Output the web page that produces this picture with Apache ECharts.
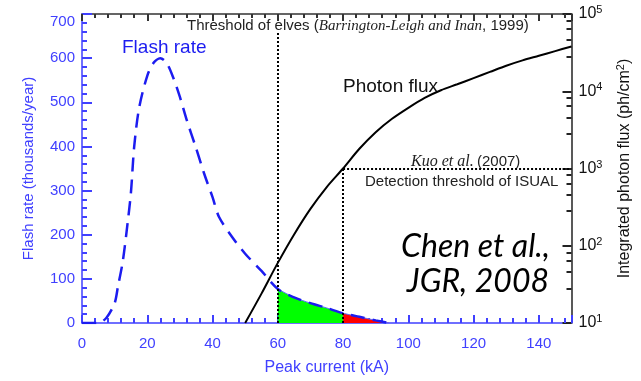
<!DOCTYPE html>
<html>
<head>
<meta charset="utf-8">
<script src="https://cdn.jsdelivr.net/npm/echarts@6/dist/echarts.min.js"></script>
<style>
html, body { margin: 0; padding: 0; background: #fff; }
#chart { width: 641px; height: 381px; }
</style>
</head>
<body>
<div id="chart"></div>
<script>
// peak current (kA) and flash rate (thousands/year)
var flashCurrent = [0, 5, 7.5, 10, 11, 12.5, 14, 15, 16, 17.5, 20, 22, 24, 26, 28, 30, 32, 35, 37.5, 40, 42, 46, 50, 55, 60, 65, 70, 75, 80, 85, 90, 94];
var flashRate = [0, 0, 12, 45, 82, 140, 228, 296, 400, 487, 560, 590, 600, 588, 555, 512, 462, 395, 337, 285, 240, 195, 157, 118, 77, 58, 45, 34, 22, 14, 6, 0];

// integrated photon flux (ph/cm2)
var photonCurrent = [50, 55, 60, 65, 70, 75, 80, 85, 90, 95, 100, 105, 110, 115, 120, 125, 130, 135, 140, 145, 150];
var photonFlux = [10, 24, 60, 140, 300, 575, 1000, 1800, 2950, 4400, 6100, 8200, 10300, 12300, 14800, 17800, 21400, 25100, 28800, 33100, 38000];

var elvesCurrent = 60;
var isualCurrent = 80;
var isualFlux = 1000;
var fluxDecades = [10, 100, 1000, 10000, 100000];

var blue = '#4040ff';
var curveBlue = '#1c1cf0';
var sans = 'Liberation Sans';

function pairs(xs, ys, from, to) {
	var out = [];
	for (var i = 0; i < xs.length; i++) {
		if (xs[i] >= from && xs[i] <= to) out.push([xs[i], ys[i]]);
	}
	return out;
}

// IDL style minor ticks on the log axis (linear steps inside each decade)
var fluxMinorTicks = [];
fluxDecades.slice(0, 4).forEach(function(d) {
	for (var k = 1; k <= 4; k++) fluxMinorTicks.push(d + 1.8 * d * k);
});

var myChart = echarts.init(document.getElementById('chart'));

var dotted = { type: [2, 2], color: '#000', width: 2 };

var option = {
	animation: false,
	grid: { left: 82, right: 66, top: 14, bottom: 54 },
	xAxis: [ {
		type: 'value', min: 0, max: 150, interval: 20, position: 'bottom',
		axisLine: { show: true, onZero: false, lineStyle: { color: blue, width: 1.5 } },
		axisTick: { show: true, inside: true, length: 8, lineStyle: { color: blue, width: 2 } },
		minorTick: { show: true, splitNumber: 5, length: 5, lineStyle: { color: blue, width: 2 } },
		axisLabel: { color: blue, fontSize: 15, fontFamily: sans, margin: 13, showMaxLabel: false },
		splitLine: { show: false },
		name: 'Peak current (kA)', nameLocation: 'middle', nameGap: 37,
		nameTextStyle: { color: blue, fontSize: 16, fontFamily: sans }
	}, {
		type: 'value', min: 0, max: 150, interval: 20, position: 'top',
		axisLine: { show: true, onZero: false, lineStyle: { color: '#333', width: 1.5 } },
		axisTick: { show: true, inside: true, length: 7, lineStyle: { color: '#333', width: 2 } },
		minorTick: { show: true, splitNumber: 5, length: 4, lineStyle: { color: '#333', width: 2 } },
		axisLabel: { show: false },
		splitLine: { show: false }
	} ],
	yAxis: [ {
		type: 'value', min: 0, max: 700, interval: 100, position: 'left',
		axisLine: { show: true, onZero: false, lineStyle: { color: blue, width: 1.5 } },
		axisTick: { show: true, inside: true, length: 10, lineStyle: { color: blue, width: 2 } },
		minorTick: { show: true, splitNumber: 5, length: 5, lineStyle: { color: blue, width: 2 } },
		axisLabel: { color: blue, fontSize: 15, fontFamily: sans, margin: 7, verticalAlignMaxLabel: 'top' },
		splitLine: { show: false },
		name: 'Flash rate (thousands/year)', nameLocation: 'middle', nameGap: 46,
		nameTextStyle: { color: blue, fontSize: 15, fontFamily: sans }
	}, {
		type: 'log', logBase: 10, min: 10, max: 100000, position: 'right',
		axisLine: { show: true, onZero: false, lineStyle: { color: '#222', width: 1.5 } },
		axisTick: { show: true, inside: true, length: 9, lineStyle: { color: '#222', width: 2 } },
		axisLabel: {
			margin: 7,
			formatter: function(v) {
				return '{b|10}{s|' + Math.round(Math.log10(v)) + '}';
			},
			rich: {
				b: { fontSize: 16, fontFamily: sans, color: '#111' },
				s: { fontSize: 11, fontFamily: sans, color: '#111', verticalAlign: 'top', padding: [0, 0, 8, 0] }
			}
		},
		splitLine: { show: false },
		name: '{n|Integrated photon flux (ph/cm}{s|2}{n|)}', nameLocation: 'middle', nameGap: 44,
		nameTextStyle: {
			rich: {
				n: { fontSize: 16, fontFamily: sans, color: '#111' },
				s: { fontSize: 11, fontFamily: sans, color: '#111', padding: [0, 0, 8, 0] }
			}
		}
	}, {
		type: 'log', logBase: 10, min: 10, max: 100000, position: 'right',
		axisLine: { show: false, onZero: false },
		axisTick: { show: true, inside: true, length: 5, customValues: fluxMinorTicks, lineStyle: { color: '#222', width: 2 } },
		axisLabel: { show: false },
		splitLine: { show: false }
	} ],
	series: [ {
		name: 'green', type: 'line', xAxisIndex: 0, yAxisIndex: 0,
		data: pairs(flashCurrent, flashRate, elvesCurrent, isualCurrent),
		smooth: 0.3, symbol: 'none',
		lineStyle: { color: '#5a6cff', width: 1 },
		areaStyle: { color: '#00ff00', opacity: 1 }
	}, {
		name: 'red', type: 'line', xAxisIndex: 0, yAxisIndex: 0,
		data: pairs(flashCurrent, flashRate, isualCurrent, 200),
		smooth: 0.3, symbol: 'none',
		lineStyle: { color: '#5a6cff', width: 1 },
		areaStyle: { color: '#ff0000', opacity: 1 }
	}, {
		name: 'Flash rate', type: 'line', xAxisIndex: 0, yAxisIndex: 0,
		data: pairs(flashCurrent, flashRate, 0, 200),
		smooth: 0.3, symbol: 'none',
		lineStyle: { color: curveBlue, width: 2.5, type: [14, 8] },
		markLine: {
			silent: true, symbol: ['none', 'none'], label: { show: false },
			lineStyle: dotted,
			data: [ [ { coord: [elvesCurrent, 0] }, { coord: [elvesCurrent, 660] } ] ]
		}
	}, {
		name: 'Photon flux', type: 'line', xAxisIndex: 0, yAxisIndex: 1,
		data: pairs(photonCurrent, photonFlux, 0, 200),
		smooth: 0.3, symbol: 'none',
		lineStyle: { color: '#000', width: 2 },
		markLine: {
			silent: true, symbol: ['none', 'none'], label: { show: false },
			lineStyle: dotted,
			data: [
				[ { coord: [isualCurrent, 10] }, { coord: [isualCurrent, isualFlux] } ],
				[ { coord: [isualCurrent, isualFlux] }, { coord: [150, isualFlux] } ]
			]
		}
	} ],
	graphic: [ {
		type: 'text', x: 187, y: 26,
		style: {
			text: '{s|Threshold of elves (}{i|Barrington-Leigh and Inan}{s|, 1999)}',
			textVerticalAlign: 'middle',
			rich: {
				s: { fontFamily: sans, fontSize: 15, fill: '#222' },
				i: { fontFamily: 'Liberation Serif', fontStyle: 'italic', fontSize: 15, fill: '#222' }
			}
		}
	}, {
		type: 'text', x: 122, y: 48,
		style: { text: 'Flash rate', fontFamily: sans, fontSize: 19, fill: curveBlue, textVerticalAlign: 'middle' }
	}, {
		type: 'text', x: 343, y: 87,
		style: { text: 'Photon flux', fontFamily: sans, fontSize: 19, fill: '#111', textVerticalAlign: 'middle' }
	}, {
		type: 'text', x: 411, y: 162,
		style: {
			text: '{i|Kuo et al.} {s|(2007)}',
			textVerticalAlign: 'middle',
			rich: {
				s: { fontFamily: sans, fontSize: 15, fill: '#222' },
				i: { fontFamily: 'Liberation Serif', fontStyle: 'italic', fontSize: 16, fill: '#222' }
			}
		}
	}, {
		type: 'text', x: 365, y: 182,
		style: { text: 'Detection threshold of ISUAL', fontFamily: sans, fontSize: 15, fill: '#222', textVerticalAlign: 'middle' }
	}, {
		type: 'text', x: 550, y: 247,
		style: { text: 'Chen et al.,', fontFamily: 'Lato', fontStyle: 'italic', fontSize: 32, fill: '#000', textAlign: 'right', textVerticalAlign: 'middle' }
	}, {
		type: 'text', x: 549, y: 282,
		style: { text: 'JGR, 2008', fontFamily: 'Lato', fontStyle: 'italic', fontSize: 32, fill: '#000', textAlign: 'right', textVerticalAlign: 'middle' }
	} ]
};

myChart.setOption(option);
</script>
</body>
</html>
